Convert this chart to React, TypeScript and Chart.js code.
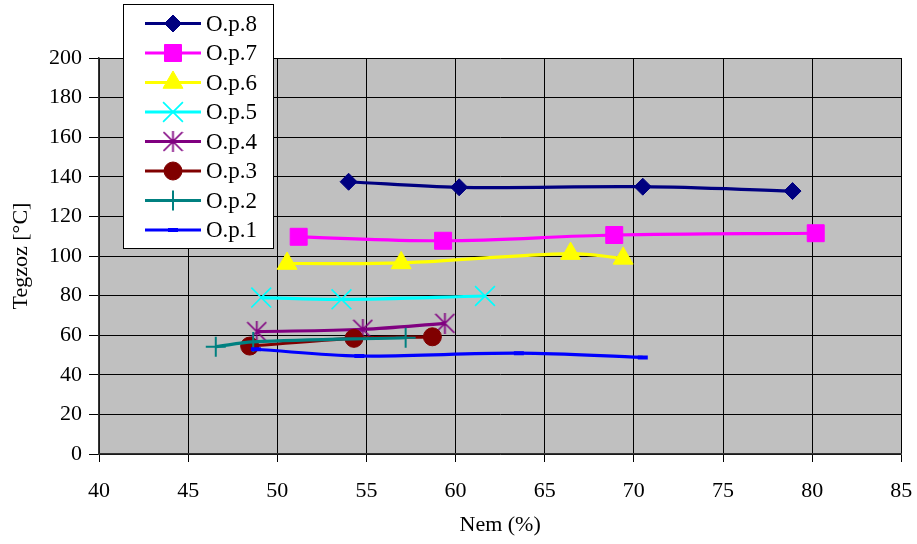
import React, { useEffect, useRef } from 'react';
import { Chart, registerables } from 'chart.js';
import { drawPoint } from 'chart.js/helpers';

Chart.register(...registerables);

// ---- data ----
const seriesNames = ['O.p.8', 'O.p.7', 'O.p.6', 'O.p.5', 'O.p.4', 'O.p.3', 'O.p.2', 'O.p.1'];

const op8X = [54.0, 60.2, 70.5, 78.9];
const op8Y = [137.5, 134.7, 135.0, 132.8];

const op7X = [51.2, 59.3, 68.9, 80.2];
const op7Y = [109.7, 107.7, 110.6, 111.5];

const op6X = [50.55, 56.95, 66.45, 69.4];
const op6Y = [96.2, 96.5, 101.2, 98.8];

const op5X = [49.1, 53.6, 61.65];
const op5Y = [79.0, 78.1, 79.8];

const op4X = [48.85, 54.8, 59.4];
const op4Y = [61.8, 63.0, 66.0];

const op3X = [48.45, 54.3, 58.7];
const op3Y = [54.5, 58.4, 59.2];

const op2X = [46.55, 48.65, 57.2];
const op2Y = [54.2, 56.6, 58.7];

const op1X = [48.8, 54.6, 63.55, 70.5];
const op1Y = [52.9, 49.5, 50.9, 48.8];

const xMin = 40, xMax = 85, xStep = 5;
const yMin = 0, yMax = 200, yStep = 20;
const xTitle = 'Nem (%)';
const yTitle = 'Tegzoz [°C]';

const FONT = "'Liberation Serif', 'Times New Roman', Times, serif";

function pts(xs: number[], ys: number[]) {
  return xs.map((x, i) => ({ x, y: ys[i] }));
}

function makeStar(color: string, size: number) {
  const c = document.createElement('canvas');
  c.width = size;
  c.height = size;
  const g = c.getContext('2d')!;
  g.strokeStyle = color;
  g.lineWidth = 1.7;
  g.beginPath();
  g.moveTo(1, 1);
  g.lineTo(size - 1, size - 1);
  g.moveTo(size - 1, 1);
  g.lineTo(1, size - 1);
  g.moveTo(size / 2, 0);
  g.lineTo(size / 2, size);
  g.stroke();
  return c;
}

const plotBg = {
  id: 'plotBg',
  beforeDraw(chart: any) {
    const { ctx, chartArea } = chart;
    ctx.save();
    ctx.fillStyle = '#C0C0C0';
    ctx.fillRect(chartArea.left, chartArea.top, chartArea.right - chartArea.left, chartArea.bottom - chartArea.top);
    ctx.restore();
  },
};

const boxLegend = {
  id: 'boxLegend',
  afterDraw(chart: any) {
    const { ctx } = chart;
    const left = 123.5, top = 4.5, w = 150, h = 244;
    ctx.save();
    ctx.fillStyle = '#ffffff';
    ctx.fillRect(left, top, w, h);
    ctx.strokeStyle = '#000000';
    ctx.lineWidth = 1;
    ctx.strokeRect(left, top, w, h);
    const rowTop = 23.5, rowGap = 29.5;
    chart.data.datasets.forEach((ds: any, i: number) => {
      const y = rowTop + i * rowGap;
      ctx.strokeStyle = ds.borderColor;
      ctx.lineWidth = 3.2;
      ctx.beginPath();
      ctx.moveTo(145, y);
      ctx.lineTo(201, y);
      ctx.stroke();
      ctx.fillStyle = ds.pointBackgroundColor;
      ctx.strokeStyle = ds.pointBorderColor;
      ctx.lineWidth = ds.pointBorderWidth;
      drawPoint(ctx, { pointStyle: ds.pointStyle, rotation: 0, radius: ds.pointRadius, borderWidth: ds.pointBorderWidth }, 173, y);
      ctx.fillStyle = '#000000';
      ctx.font = `23px ${FONT}`;
      ctx.textBaseline = 'middle';
      ctx.textAlign = 'left';
      ctx.fillText(ds.label, 206, y + 1);
    });
    ctx.restore();
  },
};

export default function App() {
  const ref = useRef<HTMLCanvasElement>(null);

  useEffect(() => {
    if (!ref.current) return;
    const star = makeStar('#800080', 21);
    const mk = (label: string, xs: number[], ys: number[], color: string, style: any, radius: number, bw: number, order: number, fill = color) => ({
      label,
      data: pts(xs, ys),
      borderColor: color,
      backgroundColor: color,
      borderWidth: 3.2,
      tension: 0.35,
      pointStyle: style,
      pointRadius: radius,
      pointHoverRadius: radius,
      pointBackgroundColor: fill,
      pointBorderColor: color,
      pointBorderWidth: bw,
      order,
    });
    const datasets = [
      mk(seriesNames[0], op8X, op8Y, '#000080', 'rectRot', 8.5, 1, 8),
      mk(seriesNames[1], op7X, op7Y, '#FF00FF', 'rect', 12, 1, 7),
      mk(seriesNames[2], op6X, op6Y, '#FFFF00', 'triangle', 11.5, 1, 6),
      mk(seriesNames[3], op5X, op5Y, '#00FFFF', 'crossRot', 14, 1.7, 5),
      mk(seriesNames[4], op4X, op4Y, '#800080', star, 10, 1.7, 4),
      mk(seriesNames[5], op3X, op3Y, '#800000', 'circle', 9, 1, 3),
      mk(seriesNames[6], op2X, op2Y, '#008080', 'cross', 10, 2, 2),
      mk(seriesNames[7], op1X, op1Y, '#0000FF', 'line', 5, 4, 1),
    ];

    const chart = new Chart(ref.current, {
      type: 'line',
      data: { datasets },
      options: {
        responsive: false,
        animation: false,
        events: [],
        layout: { padding: { left: 0, right: 15, top: 58, bottom: 0 } },
        plugins: { legend: { display: false }, tooltip: { enabled: false } },
        scales: {
          x: {
            type: 'linear',
            min: xMin,
            max: xMax,
            afterFit: (s: any) => { s.height = 90; s.paddingLeft = 0; s.paddingRight = 0; },
            ticks: { stepSize: xStep, color: '#000', font: { family: FONT, size: 22 }, padding: 16, maxRotation: 0 },
            grid: { color: '#000', lineWidth: 1, tickLength: 8, tickColor: '#000' },
            border: { color: '#333', width: 1.5 },
            title: { display: true, text: xTitle, color: '#000', font: { family: FONT, size: 22 }, padding: { top: 0, bottom: 6 } },
          },
          y: {
            type: 'linear',
            min: yMin,
            max: yMax,
            afterFit: (s: any) => { s.width = 99; s.paddingTop = 0; s.paddingBottom = 0; },
            ticks: { stepSize: yStep, color: '#000', font: { family: FONT, size: 22 }, padding: 7 },
            grid: { color: '#000', lineWidth: 1, tickLength: 10, tickColor: '#000' },
            border: { color: '#333', width: 1.5 },
            title: { display: true, text: yTitle, color: '#000', font: { family: FONT, size: 22 }, padding: { top: 8, bottom: 0 } },
          },
        },
      } as any,
      plugins: [plotBg, boxLegend],
    });
    return () => chart.destroy();
  }, []);

  return (
    <div style={{ position: 'absolute', left: 0, top: 0, width: 917, height: 544, background: '#fff' }}>
      <canvas ref={ref} width={917} height={544} style={{ display: 'block' }} />
    </div>
  );
}
